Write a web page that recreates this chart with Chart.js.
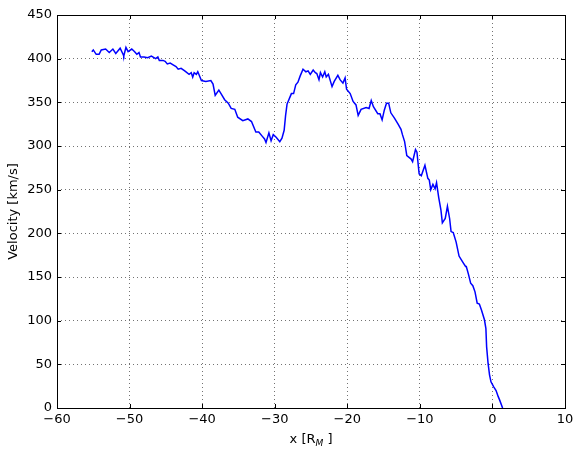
<!DOCTYPE html>
<html>
<head>
<meta charset="utf-8">
<script src="https://cdn.jsdelivr.net/npm/chart.js@4"></script>
<style>
  html, body { margin: 0; padding: 0; background: #fff; }
  #wrap { width: 581px; height: 457px; }
</style>
</head>
<body>
<div id="wrap"><canvas id="chart" width="581" height="457"></canvas></div>
<script>
// position along x [R_M]
const xPos = [
  -55.2, -55.0, -54.6, -54.2, -53.9, -53.3, -52.8, -52.3, -51.9, -51.3,
  -50.9, -50.8, -50.5, -50.2, -49.7, -49.3, -49.0, -48.7, -48.5, -48.0,
  -47.5, -47.0, -46.4, -46.1, -45.9, -45.4, -45.1, -44.8, -44.4, -44.0,
  -43.6, -43.3, -42.9, -42.4, -41.8, -41.5, -41.3, -41.1, -40.8, -40.6,
  -40.4, -40.1, -39.5, -38.8, -38.5, -38.2, -37.7, -37.4, -36.9, -36.4,
  -36.0, -35.5, -35.1, -34.4, -33.7, -33.2, -32.6, -32.2, -31.7, -31.4,
  -31.2, -30.8, -30.5, -30.2, -29.8, -29.3, -29.0, -28.7, -28.5, -28.3,
  -27.9, -27.7, -27.4, -27.1, -26.8, -26.5, -26.1, -25.7, -25.4, -25.1,
  -24.7, -24.4, -24.2, -23.9, -23.7, -23.4, -23.1, -22.9, -22.6, -22.1,
  -21.8, -21.3, -21.0, -20.6, -20.3, -20.1, -19.6, -19.2, -18.8, -18.5,
  -18.1, -17.4, -17.0, -16.7, -16.4, -15.8, -15.5, -15.2, -14.9, -14.6,
  -14.3, -14.0, -13.5, -13.0, -12.6, -12.4, -12.1, -11.8, -11.2, -11.0,
  -10.6, -10.4, -10.1, -9.8, -9.3, -8.9, -8.7, -8.5, -8.2, -7.9,
  -7.7, -7.4, -7.1, -6.9, -6.5, -6.2, -5.9, -5.7, -5.4, -5.0,
  -4.6, -4.3, -4.0, -3.7, -3.6, -3.3, -3.0, -2.7, -2.4, -2.1,
  -1.8, -1.5, -1.1, -0.9, -0.8, -0.6, -0.4, -0.2, 0.2, 0.5,
  0.8, 1.0, 1.4
];
// velocity [km/s]
const velocity = [
  408, 410, 405, 405, 410, 411, 407, 411, 406, 412,
  405, 403, 413, 408, 411, 408, 405, 407, 402, 402,
  401, 403, 400, 402, 398, 398, 397, 394, 395, 393,
  391, 388, 389, 386, 382, 384, 379, 384, 382, 385,
  381, 375, 374, 375, 371, 358, 364, 360, 353, 349,
  343, 342, 333, 329, 331, 328, 316, 316, 311, 308,
  304, 315, 306, 313, 310, 305, 309, 318, 335, 348,
  356, 360, 360, 370, 373, 380, 388, 385, 386, 382,
  387, 384, 383, 376, 384, 379, 385, 379, 382, 368,
  374, 381, 376, 372, 378, 365, 360, 351, 347, 335,
  342, 344, 343, 352, 345, 337, 337, 330, 341, 349,
  349, 338, 332, 325, 319, 313, 305, 289, 285, 282,
  296, 293, 268, 266, 278, 263, 261, 250, 256, 251,
  258, 241, 227, 212, 217, 231, 217, 202, 201, 190,
  174, 170, 166, 162, 162, 153, 143, 140, 133, 120,
  119, 112, 101, 91, 70, 51, 38, 30, 24, 20,
  13, 9, 0
];
const xTicks = [-60, -50, -40, -30, -20, -10, 0, 10];
const yTicks = [0, 50, 100, 150, 200, 250, 300, 350, 400, 450];

const FONT = "'DejaVu Sans', sans-serif";
const fmt = v => (v < 0 ? "\u2212" + Math.abs(v) : String(v));

const points = xPos.map((x, i) => ({ x: x, y: velocity[i] }));

// box, inward ticks and the x label with its subscript
const frame = {
  id: "frame",
  afterDraw(chart) {
    const { ctx, chartArea: a, scales } = chart;
    ctx.save();
    ctx.strokeStyle = "#000";
    ctx.lineWidth = 1;
    ctx.beginPath();
    xTicks.forEach(t => {
      const p = Math.round(scales.x.getPixelForValue(t)) + 0.5;
      ctx.moveTo(p, a.bottom); ctx.lineTo(p, a.bottom - 4);
      ctx.moveTo(p, a.top); ctx.lineTo(p, a.top + 4);
    });
    yTicks.forEach(t => {
      const p = Math.round(scales.y.getPixelForValue(t)) + 0.5;
      ctx.moveTo(a.left, p); ctx.lineTo(a.left + 4, p);
      ctx.moveTo(a.right, p); ctx.lineTo(a.right - 4, p);
    });
    ctx.stroke();
    ctx.strokeRect(Math.round(a.left) + 0.5, Math.round(a.top) + 0.5,
      Math.round(a.right - a.left), Math.round(a.bottom - a.top));

    // x [R_M ]
    const main1 = "x [R", sub = "M", main2 = " ]";
    ctx.fillStyle = "#000";
    ctx.textBaseline = "alphabetic";
    ctx.font = "13px " + FONT;
    const w1 = ctx.measureText(main1).width;
    const w3 = ctx.measureText(main2).width;
    ctx.font = "italic 9px " + FONT;
    const w2 = ctx.measureText(sub).width;
    const cx = (a.left + a.right) / 2;
    let x0 = cx - (w1 + w2 + w3) / 2;
    const base = 443;
    ctx.font = "13px " + FONT;
    ctx.fillText(main1, x0, base);
    ctx.font = "italic 9px " + FONT;
    ctx.fillText(sub, x0 + w1, base + 3);
    ctx.font = "13px " + FONT;
    ctx.fillText(main2, x0 + w1 + w2, base);
    ctx.restore();
  }
};

new Chart(document.getElementById("chart"), {
  type: "line",
  data: {
    datasets: [
      {
        data: points,
        borderColor: "#0000ff",
        borderWidth: 1.5,
        pointRadius: 0,
        tension: 0,
        fill: false,
      },
    ],
  },
  options: {
    responsive: false,
    animation: false,
    layout: { padding: { left: 0, top: 15, right: 16, bottom: 0 } },
    plugins: {
      legend: { display: false },
      tooltip: { enabled: false },
    },
    scales: {
      x: {
        type: "linear",
        min: -60,
        max: 10,
        afterBuildTicks: s => { s.ticks = xTicks.map(v => ({ value: v })); },
        afterFit: s => { s.height = 49; },
        ticks: {
          color: "#000",
          font: { family: FONT, size: 13 },
          padding: 4,
          callback: v => fmt(v),
        },
        grid: {
          color: "rgba(0,0,0,0.55)",
          lineWidth: 1,
          drawTicks: false,
        },
        border: { display: false, dash: [1, 3] },
      },
      y: {
        type: "linear",
        min: 0,
        max: 450,
        afterBuildTicks: s => { s.ticks = yTicks.map(v => ({ value: v })); },
        afterFit: s => { s.width = 57; },
        ticks: {
          color: "#000",
          font: { family: FONT, size: 13 },
          padding: 5,
          callback: v => fmt(v),
        },
        grid: {
          color: "rgba(0,0,0,0.55)",
          lineWidth: 1,
          drawTicks: false,
        },
        border: { display: false, dash: [1, 3] },
        title: {
          display: true,
          text: "Velocity [km/s]",
          color: "#000",
          font: { family: FONT, size: 13 },
          padding: { top: 6, bottom: 0 },
        },
      },
    },
  },
  plugins: [frame],
});
</script>
</body>
</html>
